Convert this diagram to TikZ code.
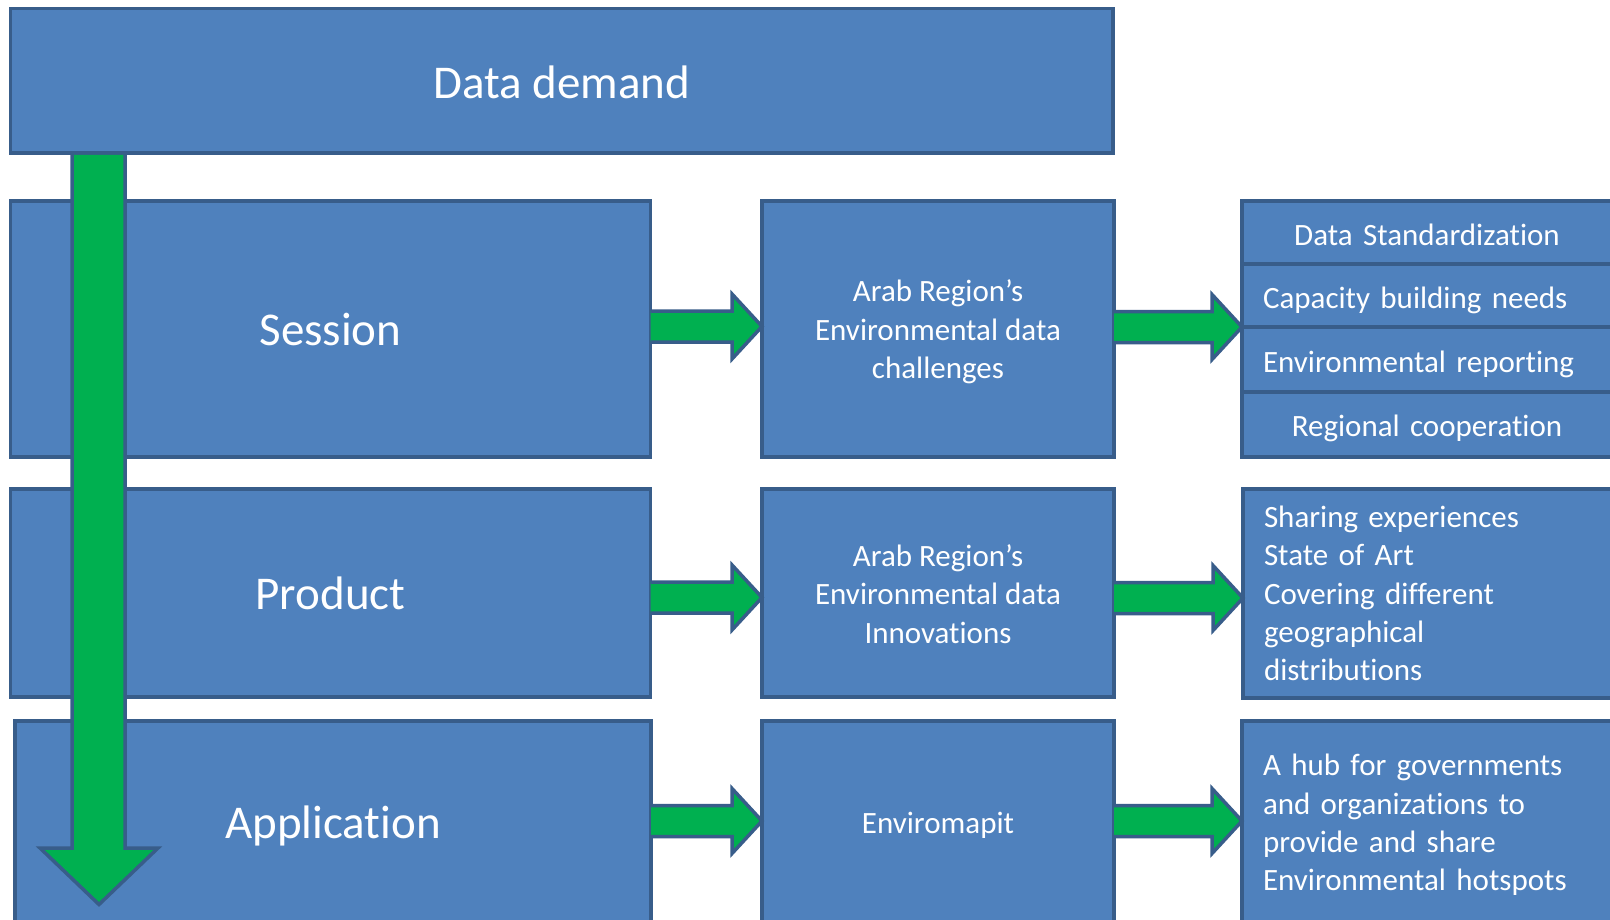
\documentclass[tikz,border=0pt]{standalone}
\usepackage{fontspec}
\setmainfont[Ligatures={NoCommon,NoRequired,NoContextual}]{Carlito}
\definecolor{boxfill}{HTML}{4F81BD}
\definecolor{boxline}{HTML}{385D8A}
\definecolor{arrgreen}{HTML}{00B050}
\newcommand\harrow[2]{%
  \path (#1.east |- #2) coordinate (hs) (#2) coordinate (ht);
  \draw[garrow] ([yshift=15.5pt]hs) -- ([xshift=-30pt,yshift=15.5pt]ht)
    -- ([xshift=-30pt,yshift=32.5pt]ht) -- (ht)
    -- ([xshift=-30pt,yshift=-32.5pt]ht) -- ([xshift=-30pt,yshift=-15.5pt]ht)
    -- ([yshift=-15.5pt]hs);}
\begin{document}
\begin{tikzpicture}[x=1pt,y=-1pt,
  blk/.style={draw=boxline, fill=boxfill, line width=3.5pt, outer sep=0pt,
    inner sep=0pt, anchor=north west},
  big/.style={text=white, font=\fontsize{47}{56}\selectfont},
  small/.style={text=white, font=\fontsize{31}{38.3}\selectfont, align=center},
  rtxt/.style={text=white, font=\fontsize{31}{38.3}\selectfont, text width=328pt,
    inner xsep=21pt},
  garrow/.style={draw=boxline, fill=arrgreen, line width=3.5pt, line join=miter}]
\useasboundingbox (0,0) rectangle (1610,920);
\clip (0,0) rectangle (1610,920);
\fill[white] (0,0) rectangle (1610,920);

% left column
\node[blk, minimum width=640pt, minimum height=256pt] (session) at (10.5,201) {};
\node[blk, minimum width=640pt, minimum height=208pt] (product) at (10.5,489) {};
\node[blk, minimum width=636pt, minimum height=202pt] (application) at (15,721) {};
\node[big] (sessionT) at ([yshift=-1pt]session.center) {Session};
\node[big] (productT) at (product.center) {Product};
\node[big] (applicationT) at ([yshift=-4pt]application.center) {Application};

% middle column
\node[blk, minimum width=352pt, minimum height=256pt] (mid1) at (762,201) {};
\node[blk, minimum width=352pt, minimum height=208pt] (mid2) at (762,489) {};
\node[blk, minimum width=352pt, minimum height=202pt] (mid3) at (762,721) {};
\node[small] (mid1T) at ([yshift=-3pt]mid1.center) {Arab Region’s\\Environmental data\\challenges};
\node[small] (mid2T) at ([yshift=-1pt]mid2.center) {Arab Region’s\\Environmental data\\Innovations};
\node[small] (mid3T) at ([yshift=-3pt]mid3.center) {Enviromapit};

% right column
\node[blk, minimum width=370pt, minimum height=63pt] (r1a) at (1242,201) {};
\node[blk, minimum width=370pt, minimum height=63pt] (r1b) at (1242,264) {};
\node[blk, minimum width=370pt, minimum height=65pt] (r1c) at (1242,327) {};
\node[blk, minimum width=370pt, minimum height=65pt] (r1d) at (1242,392) {};
\node[blk, minimum width=370pt, minimum height=209pt] (r2) at (1243,489) {};
\node[blk, minimum width=370pt, minimum height=202pt] (r3) at (1242,721) {};
\node[rtxt, align=center] (r1aT) at ([yshift=-2pt]r1a.center) {Data Standardization};
\node[rtxt, align=left] (r1bT) at ([yshift=-5pt]r1b.center) {Capacity building needs};
\node[rtxt, align=left] (r1cT) at ([yshift=-5pt]r1c.center) {Environmental reporting};
\node[rtxt, align=center] (r1dT) at ([yshift=-4pt]r1d.center) {Regional cooperation};
\node[rtxt, align=left] (r2T) at (r2.center)
  {Sharing experiences\\State of Art\\Covering different\\geographical\\distributions};
\node[rtxt, align=left] (r3T) at ([yshift=-3pt]r3.center)
  {A hub for governments\\and organizations to\\provide and share\\Environmental hotspots};

% top box
\node[blk, minimum width=1102.5pt, minimum height=144.5pt] (dd) at (10.5,8.5) {};
\node[big] (ddT) at ([yshift=-2pt]dd.center) {Data demand};

% horizontal arrows
\coordinate (t1) at ([yshift=2.5pt]mid1.west);
\coordinate (t2) at ([yshift=-4.5pt]mid2.west);
\coordinate (t3) at ([yshift=1pt]mid3.west);
\harrow{session}{t1}
\harrow{mid1}{r1b.south west}
\harrow{product}{t2}
\coordinate (u2) at ([yshift=-4.5pt]r2.west);
\harrow{mid2}{u2}
\harrow{application}{t3}
\coordinate (u3) at ([yshift=1pt]r3.west);
\harrow{mid3}{u3}

% vertical arrow
\coordinate (vtop) at (dd.south west -| 98.5,0);
\coordinate (vtip) at (99,904.5);
\draw[garrow] ([xshift=-26.5pt,yshift=-2pt]vtop) -- (72,848) -- (40,848) -- (vtip)
  -- (158,848) -- (125,848) -- ([xshift=26.5pt,yshift=-2pt]vtop);
\end{tikzpicture}
\end{document}
